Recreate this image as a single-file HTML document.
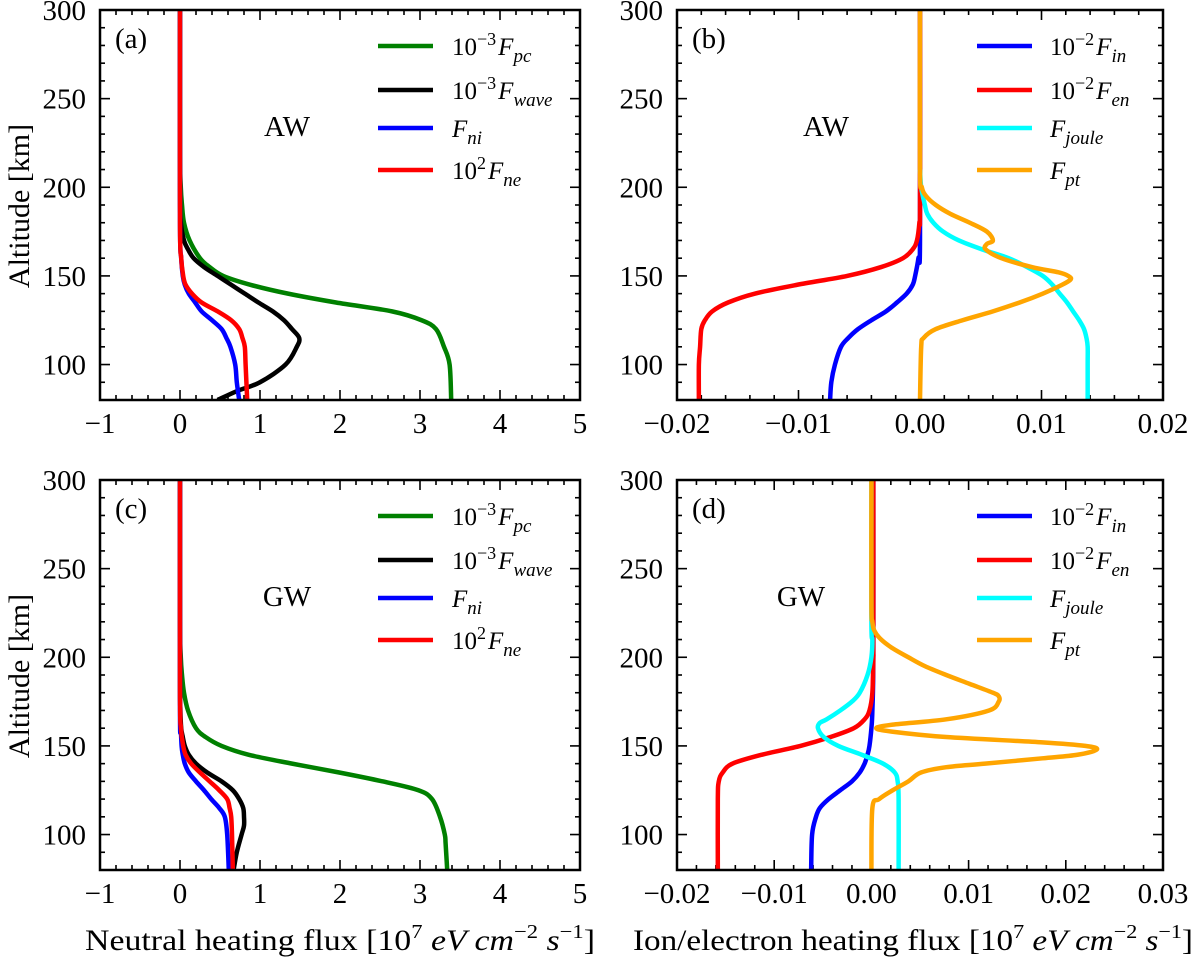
<!DOCTYPE html>
<html><head><meta charset="utf-8">
<style>
html,body{margin:0;padding:0;background:#fff;}
svg{display:block;}
text{font-family:"Liberation Serif","DejaVu Serif",serif;fill:#000;}
</style></head>
<body>
<svg id="fig" width="1200" height="958" viewBox="0 0 1200 958" xmlns="http://www.w3.org/2000/svg"></svg>
<script>
// ---------- Panel (a) AW neutral ----------
const altA_pc=[80,100,110,120,125,130,135,140,145,150,155,160,170,180,190,200,220,300];
const valA_pc=[3.39,3.37,3.30,3.20,3.02,2.65,1.95,1.35,0.88,0.54,0.37,0.25,0.12,0.05,0.025,0.01,0,0];
const altA_wave=[80,85,90,100,110,115,120,125,130,135,140,145,150,155,160,165,170,180,200,300];
const valA_wave=[0.47,0.71,1.0,1.32,1.46,1.49,1.40,1.30,1.16,0.98,0.81,0.64,0.47,0.30,0.17,0.10,0.05,0.01,0,0];
const altA_ni=[80,90,100,110,115,120,125,130,135,140,145,150,160,180,300];
const valA_ni=[0.74,0.71,0.69,0.63,0.58,0.52,0.40,0.27,0.19,0.11,0.06,0.035,0.015,0,0];
const altA_ne=[80,100,110,115,120,125,130,135,140,145,150,160,180,300];
const valA_ne=[0.84,0.82,0.81,0.78,0.74,0.64,0.47,0.27,0.15,0.07,0.04,0.015,0,0];
// ---------- Panel (b) AW ion/electron ----------
const altB_in=[80,90,100,110,115,120,125,130,135,140,145,150,160,170,300];
const valB_in=[-0.0074,-0.0073,-0.0070,-0.0065,-0.0059,-0.0051,-0.0040,-0.0028,-0.0019,-0.0011,-0.0006,-0.0004,-0.00013,0,0];
const altB_en=[80,100,110,120,125,130,135,140,145,150,155,160,165,170,180,190,300];
const valB_en=[-0.0182,-0.0182,-0.0181,-0.0180,-0.0177,-0.0171,-0.0158,-0.0136,-0.0101,-0.0060,-0.0032,-0.0014,-0.0006,-0.00025,-0.00005,0,0];
const altB_joule=[80,100,110,115,120,125,130,135,140,145,150,155,160,165,170,175,180,185,190,200,210];
const valB_joule=[0.0138,0.0138,0.0138,0.0137,0.0135,0.0131,0.0126,0.0121,0.0115,0.0109,0.0101,0.0088,0.0073,0.0051,0.0032,0.0019,0.0011,0.0006,0.0004,0.0001,0];
const altB_pt=[80,110,115,120,125,130,135,140,145,148,150,152,155,160,165,168,170,175,180,185,190,195,200,210,300];
const valB_pt=[0,0.0001,0.0003,0.0013,0.0035,0.006,0.0082,0.0101,0.0117,0.0124,0.0122,0.0114,0.0092,0.0067,0.0054,0.0055,0.006,0.0055,0.0041,0.0025,0.0013,0.0005,0.00015,0,0];
// ---------- Panel (c) GW neutral ----------
const altC_pc=[80,95,100,110,120,125,130,135,140,145,150,155,160,170,180,190,200,220,300];
const valC_pc=[3.34,3.32,3.31,3.25,3.15,2.98,2.53,1.99,1.4,0.86,0.52,0.32,0.2,0.1,0.05,0.025,0.01,0,0];
const altC_wave=[80,90,100,105,110,115,120,125,130,135,140,145,150,155,160,170,190,300];
const valC_wave=[0.67,0.71,0.77,0.80,0.80,0.79,0.74,0.66,0.52,0.34,0.2,0.11,0.06,0.035,0.015,0.005,0,0];
const altC_ni=[80,100,110,115,120,125,130,135,140,145,150,160,170,300];
const valC_ni=[0.61,0.59,0.56,0.49,0.39,0.3,0.2,0.11,0.06,0.035,0.02,0.01,0,0];
const altC_ne=[80,100,110,115,120,125,130,135,140,145,150,160,180,300];
const valC_ne=[0.66,0.65,0.64,0.62,0.59,0.49,0.37,0.25,0.14,0.07,0.04,0.012,0,0];
// ---------- Panel (d) GW ion/electron ----------
const altD_in=[80,100,110,115,120,125,130,135,140,145,150,160,170,200,300];
const valD_in=[-0.0062,-0.0061,-0.0057,-0.0053,-0.0044,-0.0032,-0.0020,-0.0012,-0.0007,-0.0004,-0.0002,0,0.0001,0.0002,0.0002];
const altD_en=[80,120,130,135,140,145,150,155,160,165,170,180,200,210,300];
const valD_en=[-0.0158,-0.0158,-0.0157,-0.0153,-0.0143,-0.0113,-0.0073,-0.0042,-0.0018,-0.0007,-0.0002,0.0001,0.0002,0.0002,0.0002];
const altD_joule=[80,120,130,135,140,145,150,155,160,163,165,170,175,180,190,200,210,220,300];
const valD_joule=[0.0028,0.0028,0.0027,0.0024,0.0012,-0.0010,-0.0034,-0.0049,-0.0055,-0.0053,-0.0046,-0.0032,-0.0020,-0.0012,-0.0004,0,0.0001,0,0];
const altD_pt=[80,115,120,125,130,135,138,140,143,145,148,150,152,155,158,160,162,165,170,175,178,180,185,190,195,200,205,210,215,220,230,300];
const valD_pt=[0,0.0001,0.0008,0.0022,0.0038,0.0051,0.0077,0.0117,0.0176,0.0212,0.0232,0.0220,0.0176,0.0077,0.0022,0.0005,0.0022,0.0077,0.0121,0.0131,0.0131,0.0125,0.0101,0.0077,0.0055,0.0038,0.0022,0.0010,0.0003,0.0001,0,0];

const NS="http://www.w3.org/2000/svg";
const svg=document.getElementById('fig');
function mk(tag,attrs,parent){const e=document.createElementNS(NS,tag);for(const k in attrs)e.setAttribute(k,attrs[k]);(parent||svg).appendChild(e);return e;}

const panels=[
 {id:'a',x0:100,x1:580,y0:10,y1:400,xmin:-1,xmax:5,xmaj:1,xmin_step:0.2,xt:['−1','0','1','2','3','4','5'],
  tag:'AW',tagx:287,series:[['green',altA_pc,valA_pc,'pc'],['black',altA_wave,valA_wave,'wave'],['blue',altA_ni,valA_ni,'ni'],['red',altA_ne,valA_ne,'ne']],legend:'n'},
 {id:'b',x0:677,x1:1163,y0:10,y1:400,xmin:-0.02,xmax:0.02,xmaj:0.01,xmin_step:0.002,xt:['−0.02','−0.01','0.00','0.01','0.02'],
  tag:'AW',tagx:826,series:[['blue',altB_in,valB_in,'in'],['red',altB_en,valB_en,'en'],['cyan',altB_joule,valB_joule,'joule'],['orange',altB_pt,valB_pt,'pt']],legend:'i'},
 {id:'c',x0:100,x1:580,y0:480,y1:870,xmin:-1,xmax:5,xmaj:1,xmin_step:0.2,xt:['−1','0','1','2','3','4','5'],
  tag:'GW',tagx:287,series:[['green',altC_pc,valC_pc,'pc'],['black',altC_wave,valC_wave,'wave'],['blue',altC_ni,valC_ni,'ni'],['red',altC_ne,valC_ne,'ne']],legend:'n'},
 {id:'d',x0:677,x1:1163,y0:480,y1:870,xmin:-0.02,xmax:0.03,xmaj:0.01,xmin_step:0.002,xt:['−0.02','−0.01','0.00','0.01','0.02','0.03'],
  tag:'GW',tagx:801,series:[['blue',altD_in,valD_in,'in'],['red',altD_en,valD_en,'en'],['cyan',altD_joule,valD_joule,'joule'],['orange',altD_pt,valD_pt,'pt']],legend:'i'}
];

function smoothPath(pts){
  let d='M'+pts[0][0].toFixed(2)+','+pts[0][1].toFixed(2);
  for(let i=0;i<pts.length-1;i++){
    const p0=pts[Math.max(0,i-1)],p1=pts[i],p2=pts[i+1],p3=pts[Math.min(pts.length-1,i+2)];
    const c1=[p1[0]+(p2[0]-p0[0])/6,p1[1]+(p2[1]-p0[1])/6];
    const c2=[p2[0]-(p3[0]-p1[0])/6,p2[1]-(p3[1]-p1[1])/6];
    d+='C'+c1[0].toFixed(2)+','+c1[1].toFixed(2)+' '+c2[0].toFixed(2)+','+c2[1].toFixed(2)+' '+p2[0].toFixed(2)+','+p2[1].toFixed(2);
  }
  return d;
}

function legendLabel(g,x,y,key){
  const t=mk('text',{x:x,y:y,'font-size':25},g);
  function ts(txt,a){const s=mk('tspan',a||{},t);s.textContent=txt;return s;}
  const pre={pc:['10','−3'],wave:['10','−3'],ni:null,ne:['10','2'],in:['10','−2'],en:['10','−2'],joule:null,pt:null}[key];
  if(pre){ts(pre[0]);ts(pre[1],{'font-size':18,dy:-10});ts('F',{'font-style':'italic',dy:10,dx:2});}
  else ts('F',{'font-style':'italic'});
  ts(key,{'font-style':'italic','font-size':19,dy:7});
}

panels.forEach(p=>{
  const g=mk('g',{});
  
  
  const sx=v=>p.x0+(v-p.xmin)/(p.xmax-p.xmin)*(p.x1-p.x0);
  const sy=a=>p.y1-(a-80)/(300-80)*(p.y1-p.y0);
  const cp=mk('clipPath',{id:'clip'+p.id},g);
  mk('rect',{x:p.x0,y:p.y0,width:p.x1-p.x0,height:p.y1-p.y0},cp);
  const tg=mk('g',{stroke:'#000','stroke-width':1.6},g);
  
  
  const nx=Math.round((p.xmax-p.xmin)/p.xmin_step);
  for(let i=0;i<=nx;i++){
    const v=p.xmin+i*p.xmin_step;const X=sx(v);
    const major=Math.abs(Math.round(i*p.xmin_step/p.xmaj)*p.xmaj-i*p.xmin_step)<1e-9;
    const L=major?10:5;
    mk('line',{x1:X,x2:X,y1:p.y1,y2:p.y1-L},tg);
    mk('line',{x1:X,x2:X,y1:p.y0,y2:p.y0+L},tg);
  }
  for(let a=80;a<=300;a+=10){
    const Y=sy(a);const L=(a%50===0)?10:5;
    mk('line',{x1:p.x0,x2:p.x0+L,y1:Y,y2:Y},tg);
    mk('line',{x1:p.x1,x2:p.x1-L,y1:Y,y2:Y},tg);
  }
  p.xt.forEach((lab,i)=>{
    const t=mk('text',{x:sx(p.xmin+i*p.xmaj),y:p.y1+33,'font-size':29,'text-anchor':'middle'},g);
    
    
    t.textContent=lab;
  });
  [100,150,200,250,300].forEach(a=>{
    const t=mk('text',{x:p.x0-14,y:sy(a)+10,'font-size':29,'text-anchor':'end'},g);
    
    
    t.textContent=String(a);
  });
  const sg=mk('g',{'clip-path':'url(#clip'+p.id+')',fill:'none','stroke-width':4.5,'stroke-linejoin':'round'},g);
  p.series.forEach(s=>{
    const pts=s[1].map((a,i)=>[sx(s[2][i]),sy(a)]);
    const path=mk('path',{d:smoothPath(pts),stroke:s[0]},sg);
    
    
  });
  const fr=mk('rect',{x:p.x0,y:p.y0,width:p.x1-p.x0,height:p.y1-p.y0,fill:'none',stroke:'#000','stroke-width':2.5},g);
  
  
  const pl=mk('text',{x:p.x0+15,y:p.y0+38,'font-size':29},g);
  
  
  pl.textContent='('+p.id+')';
  const tag=mk('text',{x:p.tagx,y:p.y0+126,'font-size':29,'text-anchor':'middle'},g);
  
  
  tag.textContent=p.tag;
  const lg=mk('g',{},g);
  
  
  const lx=p.legend==='n'?[p.x0+278,p.x0+333,p.x0+352]:[p.x0+300,p.x0+355,p.x0+373];
  const rows=[36,80,118,160];
  p.series.forEach((s,i)=>{
    const e=mk('g',{},lg);
    
    
    mk('line',{x1:lx[0],x2:lx[1],y1:p.y0+rows[i],y2:p.y0+rows[i],stroke:s[0],'stroke-width':4.5},e);
    legendLabel(e,lx[2],p.y0+rows[i]+9,s[3]);
  });
});

function ylab(cy){
  const t=mk('text',{x:0,y:0,'font-size':30,'text-anchor':'middle',transform:'translate(29,'+cy+') rotate(-90)'});
  
  
  t.textContent='Altitude [km]';
}
ylab(206);ylab(676);
function xlab(cx,len,label){
  const t=mk('text',{x:cx-len/2,y:950,'font-size':30,textLength:len,lengthAdjust:'spacingAndGlyphs'});
  
  
  const parts=[[label+' [10',{}],['7',{'font-size':20,dy:-12}],[' eV cm',{'font-style':'italic',dy:12}],['−2',{'font-size':20,dy:-12}],[' s',{'font-style':'italic',dy:12}],['−1',{'font-size':20,dy:-12}],[']',{dy:12}]];
  parts.forEach(pp=>{const s=mk('tspan',pp[1],t);s.textContent=pp[0];});
}
xlab(340,510,'Neutral heating flux');
xlab(913,560,'Ion/electron heating flux');
</script>
</body></html>
